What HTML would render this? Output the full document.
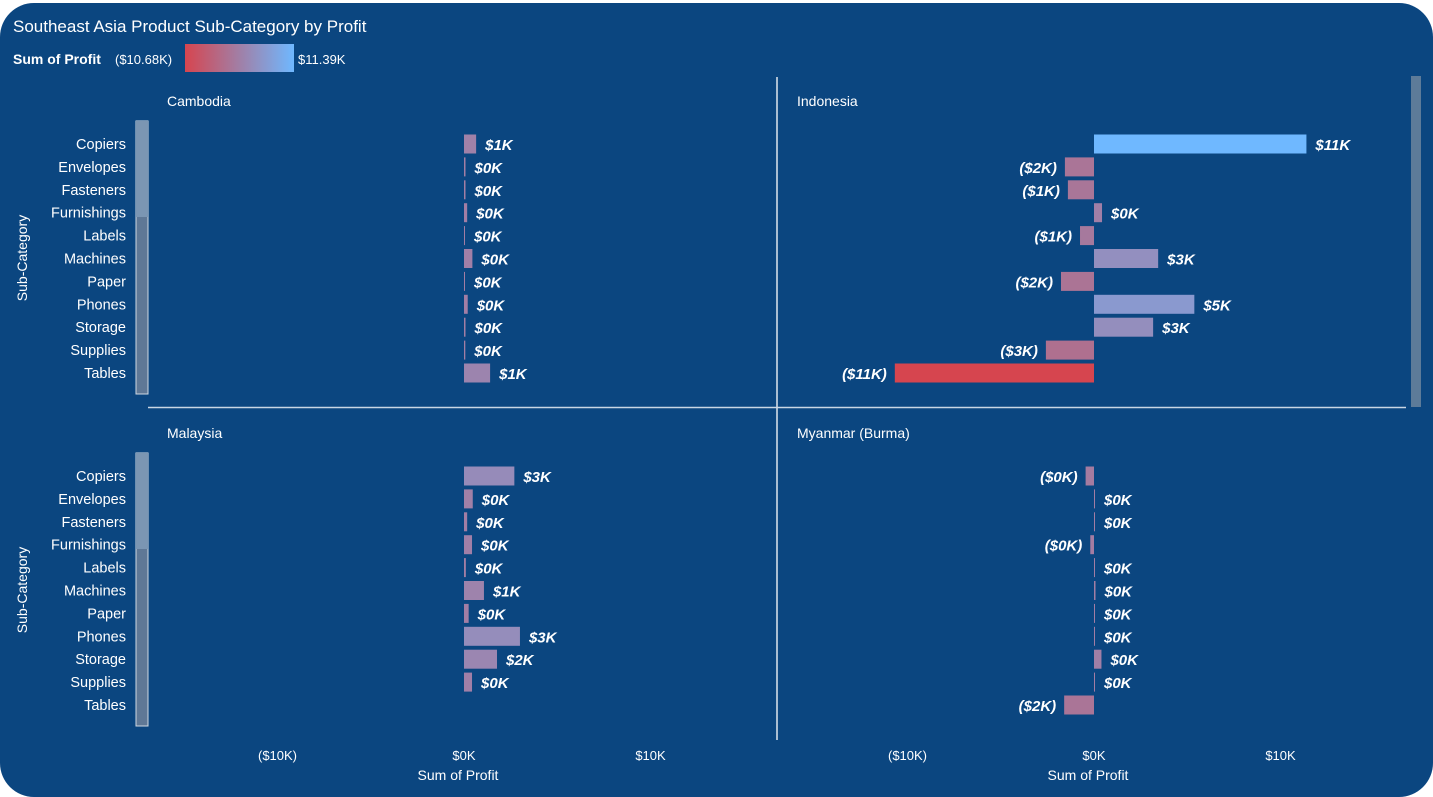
<!DOCTYPE html>
<html><head><meta charset="utf-8"><style>
html,body{margin:0;padding:0;background:#fff;}
body{width:1433px;height:797px;overflow:hidden;font-family:"Liberation Sans",sans-serif;}
#card{position:absolute;left:0;top:3px;width:1433px;height:794px;background:#0b4680;border-radius:34px;}
svg{position:absolute;left:0;top:0;}
text{font-family:"Liberation Sans",sans-serif;fill:#fff;}
</style></head><body>
<div id="card"></div>
<svg id="chart" width="1433" height="797">
<defs><linearGradient id="lg" x1="0" x2="1" y1="0" y2="0">
<stop offset="0" stop-color="#d6454f"/><stop offset="0.5" stop-color="#a17fa6"/><stop offset="1" stop-color="#6fb8ff"/></linearGradient></defs>
<text x="13" y="32" font-size="17">Southeast Asia Product Sub-Category by Profit</text>
<text x="13" y="64" font-size="14" font-weight="bold">Sum of Profit</text>
<text x="115" y="64" font-size="13">($10.68K)</text>
<rect x="185" y="44" width="109" height="28" fill="url(#lg)"/>
<text x="298" y="64" font-size="13">$11.39K</text>
<line x1="777" y1="77" x2="777" y2="740" stroke="#dfe6ee" stroke-width="1.5"/>
<line x1="148" y1="407.5" x2="1406" y2="407.5" stroke="#c9d6e4" stroke-width="1.5"/>
<rect x="1411" y="76" width="10" height="331" fill="#5d7b99"/>
</svg>
<script>
const categories=["Copiers","Envelopes","Fasteners","Furnishings","Labels","Machines","Paper","Phones","Storage","Supplies","Tables"];
const countries=["Cambodia","Indonesia","Malaysia","Myanmar (Burma)"];
const cambodia=[0.65,0.08,0.08,0.17,0.05,0.45,0.05,0.2,0.08,0.07,1.4];
const indonesia=[11.39,-1.56,-1.4,0.43,-0.75,3.44,-1.77,5.38,3.17,-2.58,-10.68];
const malaysia=[2.7,0.47,0.17,0.43,0.1,1.07,0.25,3.0,1.77,0.43,null];
const myanmar=[-0.45,0.05,0.05,-0.2,0.05,0.08,0.05,0.05,0.4,0.05,-1.6];
const xTicks=[-10,0,10];
const xTickLabels=["($10K)","$0K","$10K"];
const colorMin=-10.68, colorMax=11.39;

const svg=document.getElementById('chart');
const NS='http://www.w3.org/2000/svg';
function mk(tag,attrs,txt){const e=document.createElementNS(NS,tag);for(const k in attrs)e.setAttribute(k,attrs[k]);if(txt!==undefined)e.textContent=txt;svg.appendChild(e);return e;}
function lerp(a,b,t){return a.map((v,i)=>Math.round(v+(b[i]-v)*t));}
function color(v){const red=[214,69,79],mid=[161,127,166],blue=[111,184,255];const m=(colorMin+colorMax)/2;
 let c=v<m?lerp(red,mid,(v-colorMin)/(m-colorMin)):lerp(mid,blue,(v-m)/(colorMax-m));return `rgb(${c.join(',')})`;}
function fmt(v){const r=Math.round(Math.abs(v));return v<0?`($${r}K)`:`$${r}K`;}
const panels=[{data:cambodia,zero:464,top:144,tx:167,ty:106,left:true},
 {data:indonesia,zero:1094,top:144,tx:797,ty:106,left:false},
 {data:malaysia,zero:464,top:476,tx:167,ty:438,left:true},
 {data:myanmar,zero:1094,top:476,tx:797,ty:438,left:false}];
const pxPerK=18.65, rowH=22.9, barH=19;
panels.forEach((p,pi)=>{
 const xs=v=>p.zero+v*pxPerK;
 const yc=i=>p.top+i*rowH;
 let t=mk('text',{x:p.tx,y:p.ty,'font-size':14});
 
 t.textContent=countries[pi];
 if(p.left){
  const y0=p.top-23, y1=p.top+250;
  let s1=mk('rect',{x:136,y:y0,width:12,height:y1-y0,fill:'#5f7896',stroke:'#cfd8e2','stroke-width':1});
  
  
  let s2=mk('rect',{x:136,y:y0,width:12,height:96,fill:'#7b96b3'});
  
  
  let yt=mk('text',{x:0,y:0,'font-size':14,'text-anchor':'middle',transform:`translate(27,${p.top+114}) rotate(-90)`});
  
  yt.textContent='Sub-Category';
  categories.forEach((c,i)=>{let l=mk('text',{x:126,y:yc(i)+5,'font-size':14.5,'text-anchor':'end'});
   
   l.textContent=c;});
 }
 p.data.forEach((v,i)=>{
  if(v===null)return;
  const x0=Math.min(xs(0),xs(v)), w=Math.max(1,Math.abs(xs(v)-xs(0)));
  let b=mk('rect',{x:x0,y:yc(i)-barH/2,width:w,height:barH,fill:color(v)});
  
  
  const neg=v<-0.1;
  let l=mk('text',{x:neg?x0-8:x0+w+9,y:yc(i)+6,'font-size':15,'font-weight':'bold','font-style':'italic','text-anchor':neg?'end':'start'});
  
  l.textContent=fmt(v);
 });
});
[464,1094].forEach((z,ai)=>{
 xTicks.forEach((v,i)=>{let t=mk('text',{x:z+v*pxPerK,y:760,'font-size':13,'text-anchor':'middle'});
  
  t.textContent=xTickLabels[i];});
 let a=mk('text',{x:z-6,y:780,'font-size':14,'text-anchor':'middle'});
 
 a.textContent='Sum of Profit';
});
</script>
</body></html>
